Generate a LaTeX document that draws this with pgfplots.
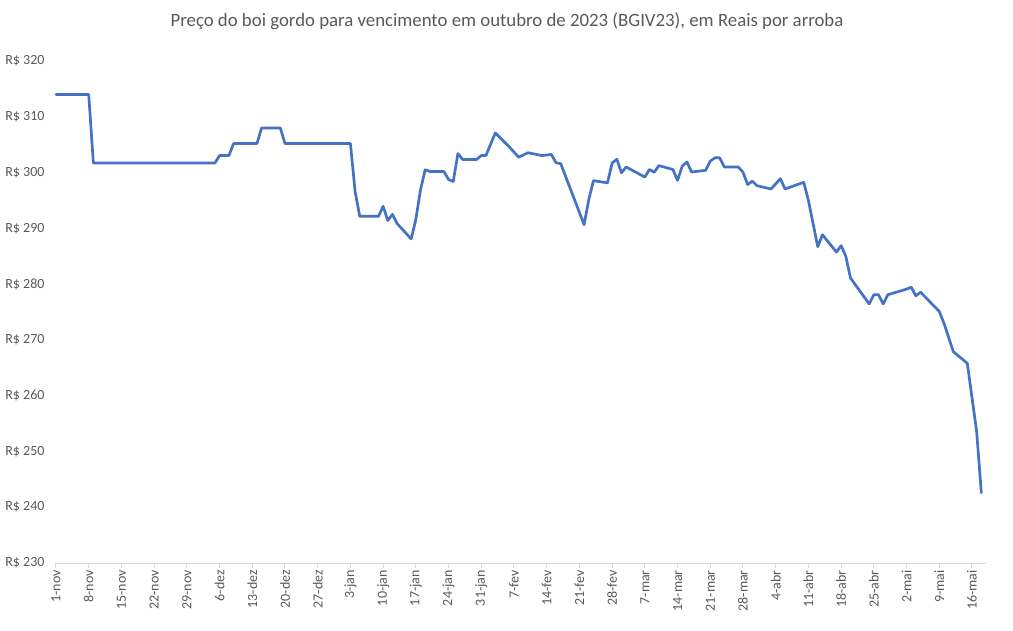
\documentclass[border=0pt]{standalone}
\usepackage{pgfplots}
\pgfplotsset{compat=1.18}
\usepackage{fontspec}
\setmainfont{Carlito}
\definecolor{txtgray}{RGB}{89,89,89}
\definecolor{axgray}{RGB}{217,217,217}
\definecolor{lineblue}{RGB}{68,114,196}
\pgfplotstableread{
day price
0 314.0
7 314.0
8 301.7
34 301.7
35 303.05
37 303.05
38 305.2
43 305.2
44 308.0
48 308.0
49 305.2
63 305.2
64 296.6
65 292.15
69 292.15
70 293.95
71 291.4
72 292.5
73 290.85
76 288.1
77 291.6
78 296.95
79 300.5
80 300.2
83 300.2
84 298.75
85 298.4
86 303.4
87 302.35
90 302.35
91 303.05
92 303.05
94 307.1
97 304.6
99 302.75
101 303.55
104 303.05
106 303.25
107 301.75
108 301.6
113 290.65
114 295.15
115 298.55
118 298.15
119 301.7
120 302.4
121 299.95
122 301.0
126 299.2
127 300.55
128 300.05
129 301.25
132 300.55
133 298.6
134 301.15
135 301.9
136 300.1
139 300.4
140 302.05
141 302.65
142 302.65
143 301.0
146 301.0
147 300.05
148 297.85
149 298.45
150 297.65
153 297.05
155 298.9
156 297.05
160 298.25
161 295.0
163 286.7
164 288.85
167 285.75
168 286.9
169 285.0
170 281.1
174 276.45
175 278.1
176 278.1
177 276.45
178 278.1
182 279.1
183 279.45
184 277.9
185 278.55
189 275.1
190 273.0
192 267.9
195 265.8
197 253.55
198 242.6
}\boi
\begin{document}
\begin{tikzpicture}
\path[use as bounding box] (0,0) rectangle (1013pt,630pt);
\node[text=txtgray, font=\fontsize{18.8}{22}\selectfont] at (507pt,609pt) {Preço do boi gordo para vencimento em outubro de 2023 (BGIV23), em Reais por arroba};
\begin{axis}[
  at={(56pt,67pt)}, anchor=south west,
  scale only axis, width=930pt, height=502pt,
  xmin=0, xmax=199, ymin=230, ymax=320,
  axis x line*=bottom, axis y line*=left,
  x axis line style={draw=axgray, line width=1pt},
  y axis line style={draw=none},
  xtick={0,7,...,196},
  xticklabels={1-nov,8-nov,15-nov,22-nov,29-nov,6-dez,13-dez,20-dez,27-dez,3-jan,10-jan,17-jan,24-jan,31-jan,7-fev,14-fev,21-fev,28-fev,7-mar,14-mar,21-mar,28-mar,4-abr,11-abr,18-abr,25-abr,2-mai,9-mai,16-mai},
  ytick={230,240,...,320},
  yticklabels={R\$ 230,R\$ 240,R\$ 250,R\$ 260,R\$ 270,R\$ 280,R\$ 290,R\$ 300,R\$ 310,R\$ 320},
  tick align=outside, major tick length=5pt,
  xtick style={draw=axgray, line width=1pt},
  ytick style={draw=none},
  xticklabel style={rotate=90, anchor=east, text=txtgray, font=\fontsize{14}{16}\selectfont, inner sep=2pt},
  yticklabel style={text=txtgray, font=\fontsize{14}{16}\selectfont, anchor=east, xshift=-3pt},
  clip=false,
]
\addplot[color=lineblue, line width=2.7pt, line join=round, line cap=round] table[x=day, y=price] {\boi};
\end{axis}
\end{tikzpicture}
\end{document}
